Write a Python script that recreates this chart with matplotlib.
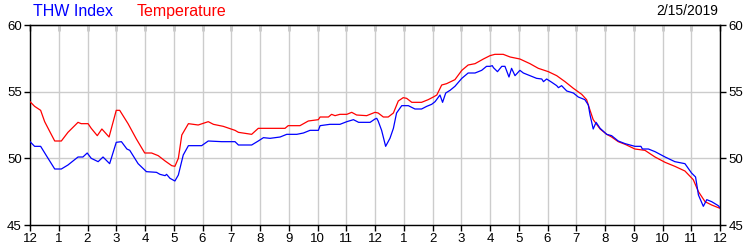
from matplotlib import pyplot as plt
import numpy as np

plt.rcParams['font.family'] = ['Liberation Sans', 'DejaVu Sans']

# hours since midnight (0..24) and readings
temp_hours = [0.0, 0.16, 0.37, 0.51, 0.69, 0.86, 1.09, 1.32, 1.67, 1.78, 2.02, 2.13, 2.34, 2.50, 2.75,
              3.00, 3.12, 3.41, 3.70, 3.99, 4.23, 4.46, 4.70, 4.93, 5.04, 5.16, 5.28, 5.51, 5.85,
              6.20, 6.38, 6.72, 7.13, 7.25, 7.71, 7.94, 8.17, 8.87, 8.98, 9.39, 9.68, 10.03, 10.09,
              10.38, 10.49, 10.61, 10.78, 11.02, 11.19, 11.36, 11.71, 12.0, 12.11, 12.29, 12.46,
              12.64, 12.81, 12.98, 13.10, 13.28, 13.62, 13.85, 14.03, 14.15, 14.32, 14.49, 14.78,
              15.02, 15.24, 15.48, 15.77, 16.0, 16.17, 16.46, 16.70, 17.04, 17.39, 17.68, 18.03,
              18.32, 18.61, 18.90, 19.19, 19.36, 19.48, 19.59, 19.83, 20.06, 20.23, 20.46, 20.70,
              21.04, 21.39, 21.74, 22.09, 22.43, 22.78, 23.07, 23.25, 23.48, 23.71, 24.0]
temperature = [54.25, 53.9, 53.6, 52.75, 52.0, 51.3, 51.3, 51.95, 52.7, 52.6, 52.6, 52.25, 51.7, 52.2, 51.6,
               53.6, 53.6, 52.6, 51.45, 50.4, 50.4, 50.2, 49.8, 49.45, 49.4, 50.0, 51.75, 52.6, 52.5,
               52.75, 52.55, 52.4, 52.1, 51.95, 51.8, 52.25, 52.25, 52.25, 52.45, 52.45, 52.8, 52.9, 53.1,
               53.1, 53.3, 53.2, 53.3, 53.3, 53.45, 53.25, 53.2, 53.45, 53.4, 53.1, 53.1,
               53.4, 54.3, 54.55, 54.5, 54.2, 54.2, 54.4, 54.6, 54.75, 55.5, 55.6, 55.9,
               56.6, 57.0, 57.1, 57.45, 57.7, 57.8, 57.8, 57.6, 57.45, 57.1, 56.75, 56.5,
               56.2, 55.75, 55.25, 54.8, 54.4, 53.6, 52.9, 52.2, 51.8, 51.6, 51.25, 51.05,
               50.7, 50.6, 50.1, 49.7, 49.4, 49.05, 48.4, 47.5, 46.75, 46.5, 46.25]

thw_hours = [0.0, 0.16, 0.37, 0.57, 0.86, 1.09, 1.32, 1.67, 1.84, 1.99, 2.13, 2.37, 2.54, 2.77, 3.00,
             3.18, 3.37, 3.47, 3.76, 4.05, 4.40, 4.52, 4.70, 4.75, 4.87, 5.04, 5.16, 5.33, 5.51,
             5.97, 6.20, 6.67, 7.13, 7.25, 7.71, 7.94, 8.12, 8.35, 8.70, 8.93, 9.28, 9.51, 9.74,
             10.03, 10.09, 10.43, 10.78, 11.02, 11.25, 11.43, 11.83, 12.0, 12.06, 12.11, 12.23,
             12.37, 12.52, 12.64, 12.75, 12.93, 13.16, 13.39, 13.62, 13.80, 13.97, 14.09, 14.26,
             14.35, 14.46, 14.61, 14.78, 15.02, 15.24, 15.48, 15.71, 15.88, 16.0, 16.08, 16.12,
             16.26, 16.41, 16.52, 16.66, 16.75, 16.87, 17.04, 17.16, 17.39, 17.62, 17.80, 17.86,
             17.97, 18.15, 18.32, 18.38, 18.49, 18.67, 18.90, 19.07, 19.30, 19.42, 19.48, 19.59,
             19.69, 19.83, 20.06, 20.23, 20.46, 20.70, 21.04, 21.25, 21.30, 21.51, 21.74, 22.09,
             22.43, 22.78, 23.01, 23.15, 23.25, 23.42, 23.54, 23.71, 23.94, 24.0]
thw_index = [51.25, 50.9, 50.9, 50.2, 49.2, 49.2, 49.5, 50.1, 50.1, 50.4, 50.0, 49.75, 50.1, 49.6, 51.2,
             51.25, 50.7, 50.6, 49.6, 49.0, 48.95, 48.8, 48.7, 48.8, 48.5, 48.3, 48.75, 50.25, 50.95,
             50.95, 51.3, 51.25, 51.25, 51.0, 51.0, 51.3, 51.55, 51.5, 51.6, 51.8, 51.8, 51.9, 52.1,
             52.1, 52.45, 52.55, 52.55, 52.75, 52.9, 52.7, 52.7, 52.95, 53.0, 52.8, 52.1,
             50.9, 51.5, 52.25, 53.4, 53.95, 53.95, 53.7, 53.7, 53.9, 54.05, 54.25, 54.75,
             54.2, 54.9, 55.1, 55.4, 56.0, 56.4, 56.4, 56.6, 56.9, 56.9, 56.95, 56.8,
             56.5, 56.9, 56.9, 56.1, 56.75, 56.2, 56.6, 56.4, 56.2, 56.0, 55.95, 55.75,
             55.95, 55.7, 55.45, 55.3, 55.45, 55.05, 54.9, 54.6, 54.4, 54.0, 53.25, 52.2,
             52.7, 52.25, 51.8, 51.7, 51.3, 51.1, 50.9, 50.9, 50.7, 50.7, 50.5, 50.1,
             49.75, 49.6, 48.9, 48.6, 47.25, 46.4, 46.9, 46.75, 46.45, 46.3]

hour_labels = ['12', '1', '2', '3', '4', '5', '6', '7', '8', '9', '10', '11',
               '12', '1', '2', '3', '4', '5', '6', '7', '8', '9', '10', '11', '12']
y_ticks = [45, 50, 55, 60]
date_text = '2/15/2019'

fig = plt.figure(figsize=(7.5, 2.5), dpi=100)
ax = fig.add_axes([0.04, 0.1, 0.92, 0.8])

ax.plot(temp_hours, temperature, color='#ff0000', linewidth=0.9, zorder=3)
ax.plot(thw_hours, thw_index, color='#0000ff', linewidth=0.9, zorder=4)

ax.set_xlim(0, 24)
ax.set_ylim(45, 60)
ax.set_xticks(np.arange(25))
ax.set_xticklabels(hour_labels)
ax.set_yticks(y_ticks)
ax.grid(True, color='#cccccc', linewidth=1.0)
ax.set_axisbelow(True)

ax.tick_params(axis='x', direction='out', length=4, width=1, labelsize=9.5, pad=2)
ax.tick_params(axis='y', direction='out', length=4, width=1, labelsize=9.5, pad=2,
               right=True, labelright=True)
for s in ax.spines.values():
    s.set_linewidth(1.0)

top = ax.secondary_xaxis('top')
top.set_xticks(np.arange(25))
top.tick_params(direction='in', length=4, width=1, labeltop=False)

fig.text(0.044, 0.955, 'THW Index', color='#0000ff', fontsize=11.5, va='center', ha='left')
fig.text(0.182, 0.955, 'Temperature', color='#ff0000', fontsize=11.5, va='center', ha='left')
fig.text(0.957, 0.955, date_text, color='black', fontsize=10, va='center', ha='right')

plt.savefig('out.png', dpi=100)
